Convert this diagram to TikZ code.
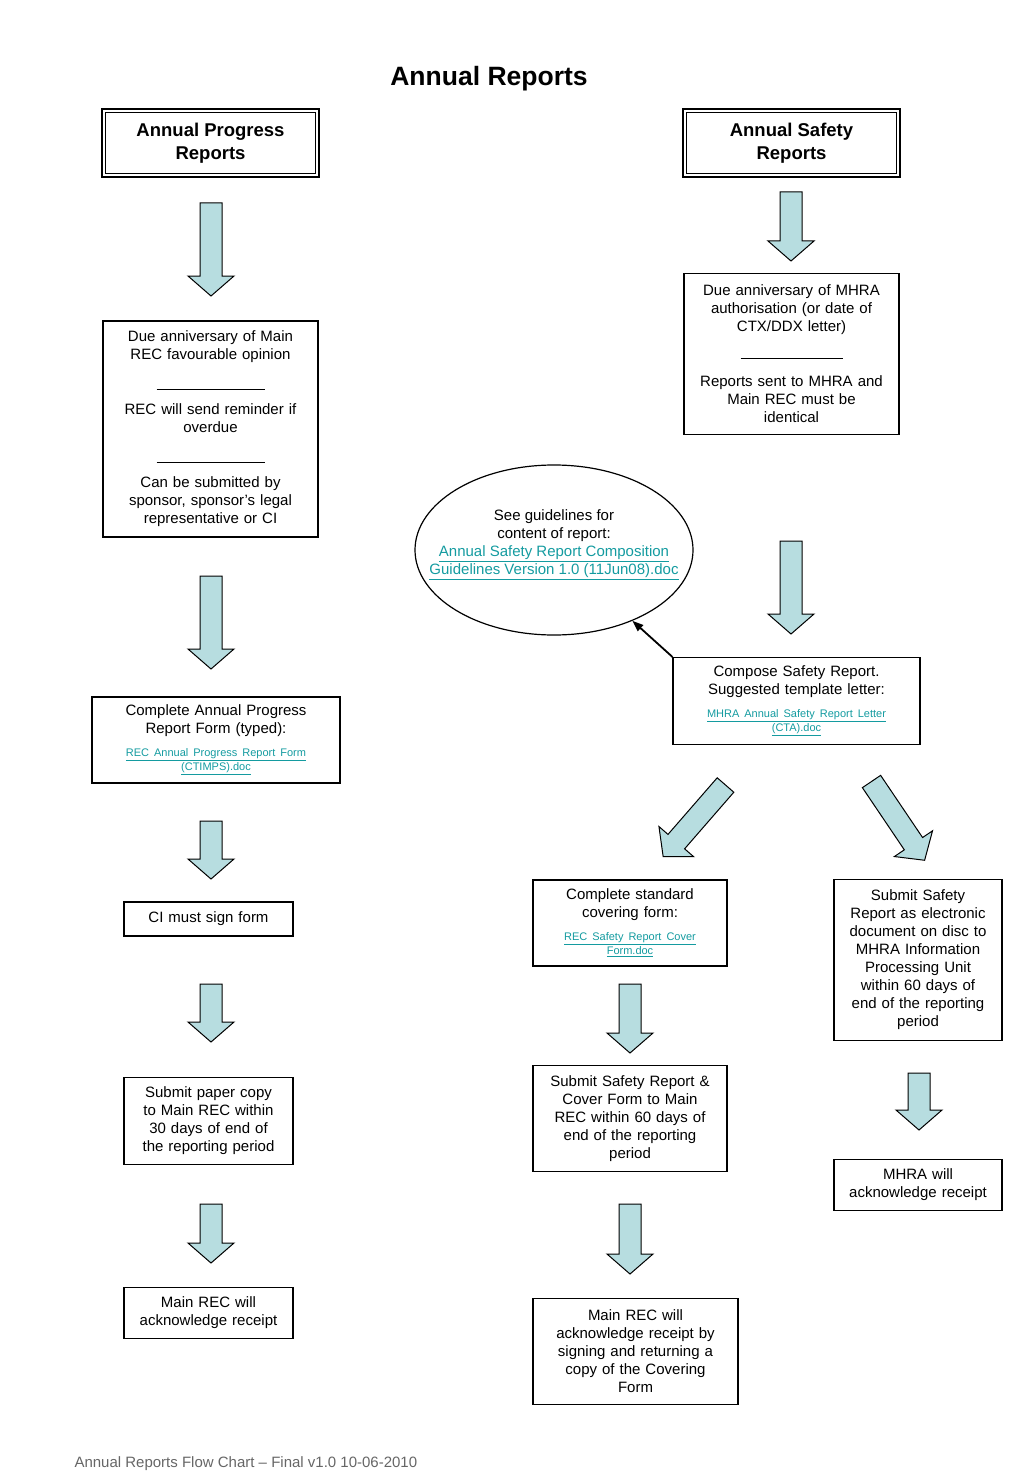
\documentclass[tikz,border=0pt]{standalone}
\usepackage{fontspec}
\setmainfont{Liberation Sans}
\usetikzlibrary{shapes.geometric,arrows.meta}
\definecolor{arrowfill}{RGB}{183,221,224}
\definecolor{linkcol}{RGB}{20,155,160}
\newcommand{\linkfont}{\fontsize{11}{14}\selectfont\color{linkcol}}
% block arrow: x, y of the shaft end, rotation, length
\newcommand{\blockarrow}[4]{%
  \draw[blockstyle,shift={(#1,#2)},rotate=#3] (-11,0) -- (11,0) -- (11,{#4-20}) -- (23,{#4-20})
    -- (0,#4) -- (-23,{#4-20}) -- (-11,{#4-20}) -- cycle;}
\tikzset{
  box/.style={draw,line width=1.1pt,align=center,inner sep=0pt,font=\fontsize{15}{18}\selectfont},
  headbox/.style={draw,line width=2pt,align=center,inner sep=0pt,minimum width=217,minimum height=68,
    font=\bfseries\fontsize{18.5}{23}\selectfont},
  blockstyle/.style={draw,line width=1pt,fill=arrowfill},
}
\begin{document}
\begin{tikzpicture}[x=1pt,y=-1pt]
  \useasboundingbox (0,0) rectangle (1024,1479);
  \node[font=\bfseries\fontsize{26.5}{30}\selectfont] (title) at (489,79) {Annual Reports};

  % headings
  \node[headbox] (apr) at (210.5,143) {Annual Progress\\Reports};
  \node[headbox] (asr) at (791.5,143) {Annual Safety\\Reports};
  \draw[line width=1.1pt] ([shift={(4.5,4.5)}]apr.north west) rectangle ([shift={(-4.5,-4.5)}]apr.south east);
  \draw[line width=1.1pt] ([shift={(4.5,4.5)}]asr.north west) rectangle ([shift={(-4.5,-4.5)}]asr.south east);

  % progress reports
  \node[box,minimum width=215,minimum height=216,text width=205] (duemain) at (210.5,429)
    {Due anniversary of Main\\REC favourable opinion\\[12pt]\rule{108pt}{0.8pt}\\[7pt]REC will send reminder if\\overdue\\[12pt]\rule{108pt}{0.8pt}\\[7pt]Can be submitted by\\sponsor, sponsor’s legal\\representative or CI};
  \node[box,minimum width=248,minimum height=86,text width=238] (aprform) at (216,740)
    {Complete Annual Progress\\Report Form (typed):\par\vspace{9pt}{\linkfont\underline{REC Annual Progress Report Form}\\\underline{(CTIMPS).doc}\par}};
  \node[box,minimum width=169,minimum height=34,text width=160] (cisign) at (208.5,919) {CI must sign form};
  \node[box,minimum width=169,minimum height=87,text width=160] (paper) at (208.5,1121)
    {Submit paper copy\\to Main REC within\\30 days of end of\\the reporting period};
  \node[box,minimum width=169,minimum height=51,text width=160] (mainack) at (208.5,1313)
    {Main REC will\\acknowledge receipt};

  % safety reports
  \node[box,minimum width=215,minimum height=161,text width=205] (duemhra) at (791.5,354)
    {Due anniversary of MHRA\\authorisation (or date of\\CTX/DDX letter)\\[9pt]\rule{102pt}{0.8pt}\\[10pt]Reports sent to MHRA and\\Main REC must be\\identical};
  \node[draw,ellipse,line width=1.2pt,minimum width=278,minimum height=170,inner sep=0pt] (guide) at (554,550) {};
  \node[align=center,font=\fontsize{15}{18}\selectfont] (guidetext) at (554,545)
    {See guidelines for\\content of report:\\{\color{linkcol}\underline{Annual Safety Report Composition}}\\{\color{linkcol}\underline{Guidelines Version 1.0 (11Jun08).doc}}};
  \node[box,minimum width=247,minimum height=87,text width=237] (compose) at (796.5,701)
    {Compose Safety Report.\\Suggested template letter:\par\vspace{9pt}{\linkfont\underline{MHRA Annual Safety Report Letter}\\\underline{(CTA).doc}\par}};
  \node[box,minimum width=194,minimum height=86,text width=186] (cover) at (630,923)
    {Complete standard\\covering form:\par\vspace{9pt}{\linkfont\underline{REC Safety Report Cover}\\\underline{Form.doc}\par}};
  \node[box,minimum width=194,minimum height=106,text width=186] (submitrec) at (630,1118.5)
    {Submit Safety Report \&\\Cover Form to Main\\REC within 60 days of\\end of the reporting\\period};
  \node[box,minimum width=205,minimum height=106,text width=196] (recsign) at (635.5,1351.5)
    {Main REC will\\acknowledge receipt by\\signing and returning a\\copy of the Covering\\Form};
  \node[box,minimum width=168,minimum height=161,text width=160] (disc) at (918,960)
    {Submit Safety\\Report as electronic\\document on disc to\\MHRA Information\\Processing Unit\\within 60 days of\\end of the reporting\\period};
  \node[box,minimum width=168,minimum height=51,text width=160] (mhraack) at (918,1185)
    {MHRA will\\acknowledge receipt};

  \draw[-{Triangle[length=11pt,width=8pt]},line width=1.8pt] (compose.north west) -- (guide);

  % block arrows
  \foreach \x/\y/\l in {211/203/93, 211/576/93, 211/821/58, 211/984/58, 211/1204/59,
                        791/192/69, 791/541/93, 630/984/69, 630/1204/70, 919/1073/57}
    {\blockarrow{\x}{\y}{0}{\l}}
  \blockarrow{725.5}{785}{-41}{95}
  \blockarrow{871.5}{781.5}{34}{95}

  \node[anchor=west,text=black!60,font=\fontsize{15}{18}\selectfont] (footer) at (71,1464)
    {Annual Reports Flow Chart – Final v1.0 10-06-2010};
\end{tikzpicture}
\end{document}
